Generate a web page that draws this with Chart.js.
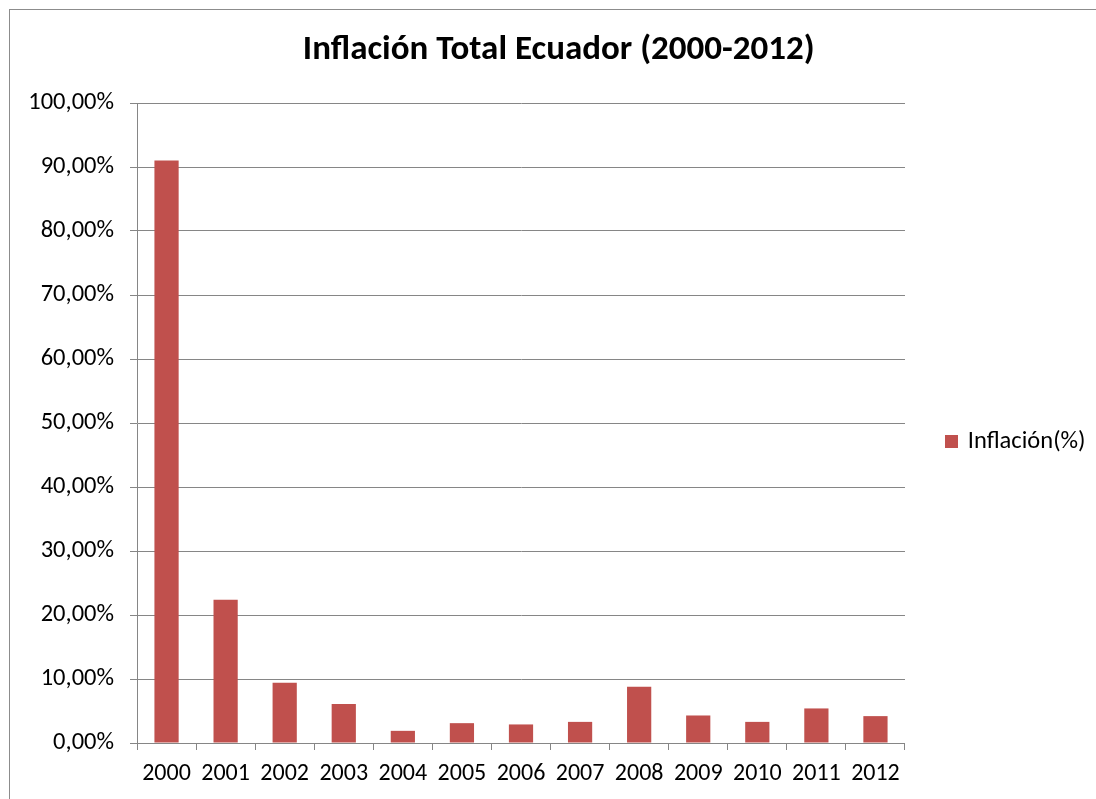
<!DOCTYPE html>
<html>
<head>
<meta charset="utf-8">
<script src="https://cdn.jsdelivr.net/npm/chart.js@4.4.1/dist/chart.umd.min.js"></script>
<style>
    html, body { margin: 0; padding: 0; background: #ffffff; }
    #wrap { position: relative; width: 1096px; height: 799px; overflow: hidden; }
    #frame {
        position: absolute; left: 9px; top: 9px; width: 1200px; height: 900px;
        border-left: 1px solid #8c8c8c; border-top: 1px solid #8c8c8c;
        pointer-events: none;
    }
    canvas { position: absolute; left: 0; top: 0; }
</style>
</head>
<body>
<div id="wrap">
    <canvas id="inflationChart" width="1096" height="799"></canvas>
    <div id="frame"></div>
</div>
<script>
const years = ["2000", "2001", "2002", "2003", "2004", "2005", "2006", "2007", "2008", "2009", "2010", "2011", "2012"];
const inflation = [91.0, 22.4, 9.4, 6.1, 1.9, 3.1, 2.9, 3.3, 8.8, 4.3, 3.3, 5.4, 4.2];
const seriesName = "Inflación(%)";
const chartTitle = "Inflación Total Ecuador (2000-2012)";

const fontFamily = "Carlito, Lato, 'Open Sans', sans-serif";
const barColor = "#C0504D";
const axisGray = "#868686";

Chart.defaults.font.family = fontFamily;
Chart.defaults.color = "#000000";

function formatPercent(value) {
    return value.toFixed(2).replace(".", ",") + "%";
}

// the frame runs past the right edge, so centre the title a little to the right
const titleShift = {
    id: "titleShift",
    afterLayout(chart) {
        if (chart.titleBlock) {
            chart.titleBlock.left += 11;
            chart.titleBlock.right += 11;
        }
    }
};

new Chart(document.getElementById("inflationChart"), {
    type: "bar",
    data: {
        labels: years,
        datasets: [{
            label: seriesName,
            data: inflation,
            backgroundColor: barColor,
            borderWidth: 0,
            barPercentage: 0.41,
            categoryPercentage: 1.0
        }]
    },
    options: {
        responsive: false,
        animation: false,
        layout: {
            padding: { left: 0, right: 0.5, top: 0, bottom: 0 }
        },
        scales: {
            x: {
                grid: {
                    offset: true,
                    drawOnChartArea: false,
                    drawTicks: true,
                    tickLength: 7,
                    color: axisGray
                },
                border: { display: true, color: axisGray, width: 1 },
                ticks: {
                    font: { size: 24 },
                    padding: 10,
                    maxRotation: 0
                },
                afterFit(scale) { scale.height = 56; }
            },
            y: {
                min: 0,
                max: 100,
                grid: {
                    color: axisGray,
                    tickLength: 7
                },
                border: { display: true, color: axisGray, width: 1 },
                ticks: {
                    stepSize: 10,
                    font: { size: 24.5 },
                    padding: 16,
                    callback: value => formatPercent(value)
                },
                afterFit(scale) { scale.width = 137; }
            }
        },
        plugins: {
            title: {
                display: true,
                text: chartTitle,
                color: "#000000",
                font: { size: 35, weight: "bold" },
                padding: { top: 29, bottom: 32 }
            },
            legend: {
                position: "right",
                align: "center",
                // empty legend title only pushes the entry down a bit
                title: {
                    display: true,
                    text: " ",
                    font: { size: 10 },
                    padding: { top: 36, bottom: 36 }
                },
                labels: {
                    usePointStyle: true,
                    pointStyle: "rect",
                    boxWidth: 8,
                    boxHeight: 13,
                    padding: 42.5,
                    font: { size: 24.5 }
                }
            },
            tooltip: { enabled: false }
        }
    },
    plugins: [titleShift]
});
</script>
</body>
</html>
